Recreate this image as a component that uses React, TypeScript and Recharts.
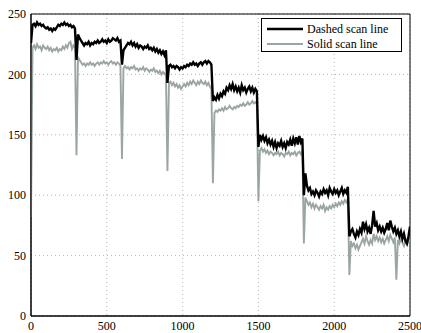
import React from 'react';
import { LineChart, Line, XAxis, YAxis, CartesianGrid, ReferenceArea, Legend } from 'recharts';

// sample spacing along the scan line (pixel index step)
const SAMPLE_STEP = 10;

const seriesNames = ['Dashed scan line', 'Solid scan line'];
const seriesColors = ['#000000', '#9ba6a4'];

// Dashed scan line values, x = 0, 10, 20, ..., 2500
const dashedScan = [
  226, 241, 242, 240, 243, 241, 242, 240, 241, 239, 238, 239, 237, 238, 236, 238, 237, 239, 241, 240, 242, 241, 243, 241, 242, 240, 241, 239, 240, 238,
  212, 233, 230, 228, 226, 224, 226, 225, 227, 224, 226, 225, 227, 226, 228, 226, 227, 229, 227, 228, 226, 229, 227, 228, 230, 229, 228, 230, 227, 228,
  208, 220, 222, 224, 226, 225, 227, 224, 226, 223, 225, 222, 224, 223, 221, 223, 222, 224, 221, 222, 220, 222, 219, 221, 218, 220, 217, 219, 216, 220,
  193, 207, 208, 206, 207, 205, 207, 206, 204, 206, 205, 207, 206, 208, 207, 209, 208, 210, 208, 209, 207, 209, 210, 208, 210, 211, 209, 211, 210, 208,
  178, 181, 179, 183, 180, 184, 182, 186, 184, 189, 187, 191, 188, 192, 187, 190, 186, 189, 185, 191, 187, 189, 185, 188, 190, 186, 189, 185, 188, 186,
  140, 150, 146, 149, 145, 148, 143, 146, 142, 145, 140, 144, 139, 143, 141, 145, 140, 143, 139, 144, 142, 146, 141, 147, 143, 148, 142, 149, 144, 147,
  100, 118, 108, 104, 106, 101, 103, 100, 104, 102, 99, 103, 101, 105, 102, 104, 100, 106, 103, 101, 105, 102, 104, 100, 103, 106, 101, 104, 102, 107,
  66, 70, 72, 68, 65, 70, 67, 72, 69, 78, 72, 76, 70, 73, 68, 75, 87, 74, 77, 71, 74, 70, 73, 69, 72, 77, 71, 79, 74, 70, 73, 68, 71, 66, 70, 64, 68, 62, 60, 66, 74,
];

// Solid scan line values, x = 0, 10, 20, ..., 2500
const solidScan = [
  82, 222, 224, 221, 225, 222, 223, 220, 224, 222, 221, 223, 220, 222, 219, 221, 220, 222, 219, 221, 220, 223, 221, 224, 222, 226, 227, 221, 224, 222,
  133, 214, 212, 210, 208, 209, 207, 209, 208, 210, 208, 209, 207, 209, 210, 208, 210, 209, 211, 209, 210, 208, 210, 211, 209, 210, 208, 210, 209, 207,
  130, 205, 207, 205, 206, 204, 206, 205, 207, 204, 205, 203, 205, 204, 206, 203, 205, 204, 202, 204, 203, 205, 202, 203, 201, 203, 200, 202, 201, 199,
  120, 193, 194, 191, 193, 190, 192, 189, 191, 188, 190, 192, 190, 193, 191, 194, 192, 195, 193, 191, 194, 192, 195, 193, 192, 194, 191, 193, 190, 188,
  110, 168, 170, 169, 171, 170, 172, 170, 173, 171, 172, 174, 172, 171, 173, 172, 174, 173, 175, 174, 176, 174, 175, 177, 175, 176, 178, 176, 177, 175,
  95, 137, 139, 136, 138, 135, 137, 134, 136, 135, 133, 135, 134, 136, 133, 135, 134, 132, 135, 134, 136, 133, 135, 134, 136, 133, 135, 136, 134, 137,
  60, 98, 95, 92, 94, 90, 93, 89, 92, 90, 88, 91, 89, 92, 87, 90, 88, 91, 89, 92, 90, 93, 91, 94, 92, 95, 93, 96, 94, 97,
  34, 62, 58, 60, 56, 59, 55, 58, 61, 64, 60, 66, 62, 59, 63, 60, 68, 63, 66, 62, 65, 61, 64, 60, 63, 66, 62, 67, 64, 61, 65, 30, 63, 60, 64, 61, 58, 62, 59, 63, 61,
];

const xTicks = [0, 500, 1000, 1500, 2000, 2500];
const yTicks = [0, 50, 100, 150, 200, 250];

const data = dashedScan.map((v, i) => ({ x: i * SAMPLE_STEP, dashed: v, solid: solidScan[i] }));

const FONT = '"Liberation Serif", "Times New Roman", serif';
const tickStyle = { fontFamily: FONT, fontSize: 12, fill: '#000' };

function LegendBox() {
  return (
    <div
      style={{
        width: 139,
        height: 32,
        border: '1px solid #000',
        background: '#fff',
        position: 'relative',
        fontFamily: FONT,
        fontSize: 12,
        color: '#000',
      }}
    >
      {seriesNames.map((name, i) => (
        <div
          key={name}
          style={{
            position: 'absolute',
            left: 5,
            top: 3 + i * 14.5,
            height: 14,
            display: 'flex',
            alignItems: 'center',
            whiteSpace: 'nowrap',
          }}
        >
          <svg width={36} height={4} style={{ display: 'block' }}>
            <line x1={0} y1={2} x2={36} y2={2} stroke={seriesColors[i]} strokeWidth={i === 0 ? 2.4 : 2} />
          </svg>
          <span style={{ marginLeft: 4, lineHeight: '14px' }}>{name}</span>
        </div>
      ))}
    </div>
  );
}

export default function App() {
  return (
    <div style={{ position: 'absolute', left: 0, top: 0, width: 421, height: 333, background: '#fff' }}>
      <LineChart width={421} height={333} data={data} margin={{ top: 14, right: 11, bottom: 0, left: 0 }}>
        <CartesianGrid stroke="#b5b5b5" strokeDasharray="1 3" />
        <XAxis
          dataKey="x"
          type="number"
          domain={[0, 2500]}
          ticks={xTicks}
          interval={0}
          height={17}
          tickSize={0}
          tickMargin={5}
          axisLine={{ stroke: '#000' }}
          tick={tickStyle}
          allowDataOverflow
        />
        <YAxis
          type="number"
          domain={[0, 250]}
          ticks={yTicks}
          interval={0}
          width={31}
          tickSize={0}
          tickMargin={5}
          axisLine={{ stroke: '#000' }}
          tick={tickStyle}
          allowDataOverflow
        />
        <Line
          type="linear"
          dataKey="solid"
          name={seriesNames[1]}
          stroke={seriesColors[1]}
          strokeWidth={1.9}
          dot={false}
          activeDot={false}
          isAnimationActive={false}
        />
        <Line
          type="linear"
          dataKey="dashed"
          name={seriesNames[0]}
          stroke={seriesColors[0]}
          strokeWidth={2.4}
          dot={false}
          activeDot={false}
          isAnimationActive={false}
        />
        <ReferenceArea x1={0} x2={2500} y1={0} y2={250} fill="none" stroke="#000" strokeWidth={1} ifOverflow="visible" />
        <Legend
          layout="vertical"
          align="center"
          verticalAlign="middle"
          width={141}
          wrapperStyle={{ left: 261, top: 18, width: 141, height: 34 }}
          content={() => <LegendBox />}
        />
      </LineChart>
    </div>
  );
}
